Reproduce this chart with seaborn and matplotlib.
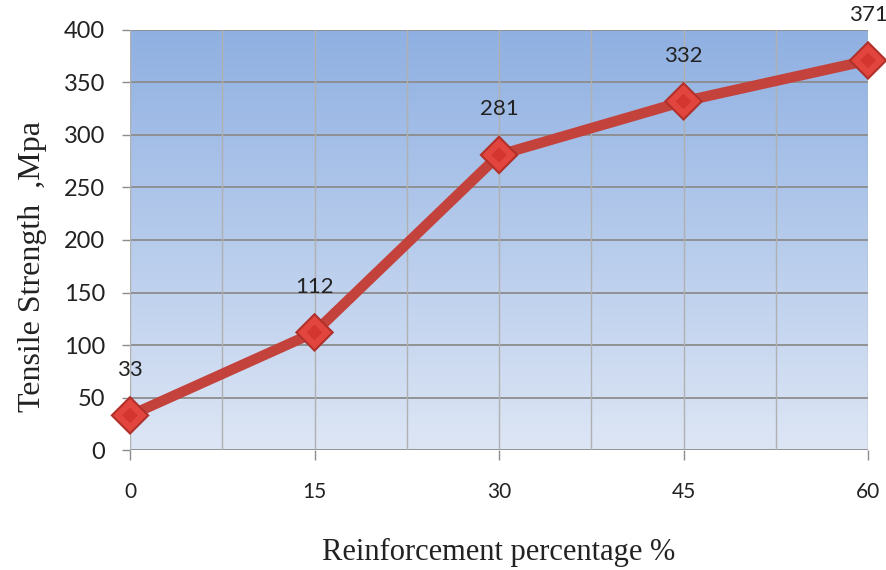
import numpy as np
import pandas as pd
import matplotlib
matplotlib.use("Agg")
import matplotlib.pyplot as plt
from matplotlib.colors import LinearSegmentedColormap
import seaborn as sns

# Tensile strength vs. reinforcement content
reinforcement = [0, 15, 30, 45, 60]
strength = [33, 112, 281, 332, 371]
x_ticks = [0, 15, 30, 45, 60]
y_ticks = [0, 50, 100, 150, 200, 250, 300, 350, 400]

df = pd.DataFrame({"reinforcement": reinforcement, "strength": strength})

sns.set_theme(style="white")
plt.rcParams["font.family"] = ["Lato", "DejaVu Sans"]

fig = plt.figure(figsize=(8.87, 5.70), dpi=100)
ax = fig.add_axes([0.1466, 0.2105, 0.8320, 0.7369])

# vertical blue gradient behind the plot area
grad = LinearSegmentedColormap.from_list("bg", ["#dde6f5", "#8fb0e2"])
ax.imshow(np.linspace(0, 1, 256).reshape(-1, 1), cmap=grad, origin="lower",
          extent=[0, 60, 0, 400], aspect="auto", zorder=0)

ax.set_xlim(0, 60)
ax.set_ylim(0, 400)

# gridlines: horizontal at every y tick, vertical at every half category
for yv in y_ticks:
    ax.axhline(yv, color="#8c8c8c", lw=1.3, zorder=1)
for xv in np.arange(0, 60.1, 7.5):
    ax.axvline(xv, color="#b0b0b0", lw=1.0, zorder=1)

sns.lineplot(data=df, x="reinforcement", y="strength", ax=ax,
             color="#c4423c", lw=7.5, zorder=3, legend=False)

# bevelled diamond markers
ax.scatter(reinforcement, strength, marker="D", s=20**2, color="#b0302a",
           edgecolor="none", zorder=4, clip_on=False)
ax.scatter(reinforcement, strength, marker="D", s=17**2, color="#e2453e",
           edgecolor="none", zorder=5, clip_on=False)
ax.scatter(reinforcement, strength, marker="D", s=8**2, color="#d5352f",
           edgecolor="none", zorder=6, clip_on=False)

for xv, yv in zip(reinforcement, strength):
    ax.annotate(f"{yv}", (xv, yv), xytext=(0, 33), textcoords="offset points",
                ha="center", va="center", fontsize=16, color="#222222",
                zorder=7, annotation_clip=False)

for s in ax.spines.values():
    s.set_visible(False)

ax.set_xticks(x_ticks)
ax.set_xticklabels([str(v) for v in x_ticks], fontsize=15, color="#222222")
ax.set_yticks(y_ticks)
ax.set_yticklabels([str(v) for v in y_ticks], fontsize=17, color="#222222")
ax.tick_params(axis="x", length=7, width=1, color="#8c8c8c", pad=16, direction="out")
ax.tick_params(axis="y", length=6, width=1, color="#8c8c8c", pad=12, direction="out")
ax.xaxis.set_ticks_position("bottom")
ax.yaxis.set_ticks_position("left")

ax.set_xlabel("Reinforcement percentage %", fontsize=22, family="Liberation Serif",
              color="#222222", labelpad=26)
ax.set_ylabel("Tensile Strength  ,Mpa", fontsize=23, family="Liberation Serif",
              color="#222222")
ax.yaxis.set_label_coords(-0.1125, 0.436)

fig.savefig("out.png", dpi=100, facecolor="white")
